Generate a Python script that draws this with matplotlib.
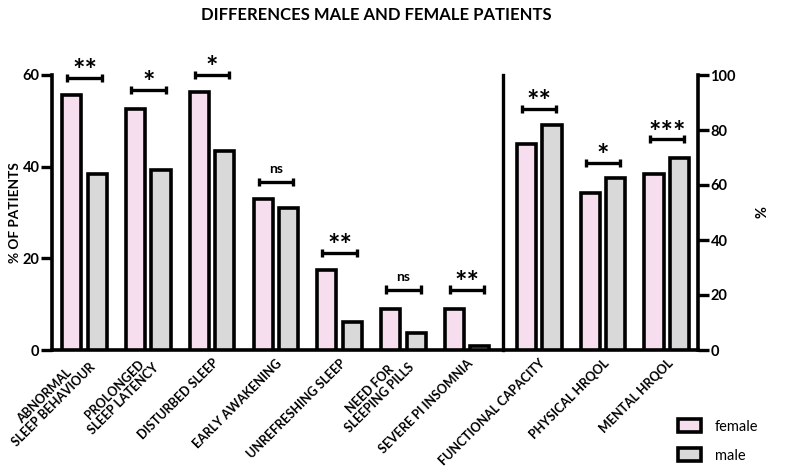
import matplotlib
matplotlib.use("Agg")
import matplotlib.pyplot as plt
import matplotlib.transforms as mtransforms
from matplotlib.patches import Patch

plt.rcParams['font.family'] = ['Lato', 'DejaVu Sans']

# ---- data ----
left_categories = ["ABNORMAL\nSLEEP BEHAVIOUR", "PROLONGED\nSLEEP LATENCY", "DISTURBED SLEEP",
                   "EARLY AWAKENING", "UNREFRESHING SLEEP", "NEED FOR\nSLEEPING PILLS",
                   "SEVERE PI INSOMNIA"]
right_categories = ["FUNCTIONAL CAPACITY", "PHYSICAL HRQOL", "MENTAL HRQOL"]

female_left = [55.6, 52.5, 56.4, 32.9, 17.5, 9.0, 8.9]
male_left = [38.5, 39.3, 43.5, 31.0, 6.2, 3.8, 0.95]
female_right = [74.8, 57.2, 63.9]
male_right = [81.7, 62.4, 69.9]

sig_left = ["**", "*", "*", "ns", "**", "ns", "**"]
sig_left_y = [59.4, 56.7, 60.0, 36.6, 21.2, 13.2, 13.2]
sig_right = ["**", "*", "***"]
sig_right_y = [87.7, 68.1, 76.6]

left_ticks = [0, 20, 40, 60]
right_ticks = [0, 20, 40, 60, 80, 100]

pink = "#F6DEEE"
grey = "#D9D9D9"
lw = 2.6

fig = plt.figure(figsize=(7.85, 4.74), dpi=100)
ax = fig.add_axes([52/785, 1-350/474, (698-52)/785, 275/474])
ax2 = ax.twinx()

xl = list(range(len(left_categories)))
xr = [7.13 + i for i in range(len(right_categories))]
off = 0.2
w = 0.3

ax.bar([x - off for x in xl], female_left, width=w, color=pink, edgecolor="black", linewidth=lw, zorder=3)
ax.bar([x + off for x in xl], male_left, width=w, color=grey, edgecolor="black", linewidth=lw, zorder=3)
ax2.bar([x - off for x in xr], female_right, width=w, color=pink, edgecolor="black", linewidth=lw, zorder=3)
ax2.bar([x + off for x in xr], male_right, width=w, color=grey, edgecolor="black", linewidth=lw, zorder=3)

ax.set_xlim(-0.51, 9.62)
ax.set_ylim(0, 60)
ax2.set_ylim(0, 100)
ax.axvline(6.565, ymin=0, ymax=1.0, color="black", linewidth=2.4, clip_on=False)

def bracket(axis, x, y, txt, ymax):
    hw = 0.27
    axis.plot([x - hw, x + hw], [y, y], color="black", linewidth=2.4, solid_capstyle="butt", clip_on=False)
    cap = ymax * 0.015
    for xx in (x - hw, x + hw):
        axis.plot([xx, xx], [y - cap, y + cap], color="black", linewidth=2.4, solid_capstyle="butt", clip_on=False)
    if txt == "ns":
        axis.annotate(txt, (x, y), xytext=(0, 5), textcoords="offset points", ha="center", va="bottom",
                      fontsize=10, fontweight="bold")
    else:
        axis.annotate(txt, (x, y), xytext=(0, -4.5), textcoords="offset points", ha="center", va="bottom",
                      fontsize=21, fontweight="bold")

for x, s, y in zip(xl, sig_left, sig_left_y):
    bracket(ax, x, y, s, 60)
for x, s, y in zip(xr, sig_right, sig_right_y):
    bracket(ax2, x, y, s, 100)

for a in (ax, ax2):
    a.spines["top"].set_visible(False)
    for sp in a.spines.values():
        sp.set_linewidth(2.6)
ax.spines["right"].set_visible(False)
ax2.spines["left"].set_visible(False)
ax2.spines["bottom"].set_visible(False)

ax.set_yticks(left_ticks)
ax2.set_yticks(right_ticks)
ax.tick_params(axis="y", length=8, width=2.4, labelsize=10.5, pad=1)
ax2.tick_params(axis="y", length=8, width=2.4, labelsize=10.5, pad=1)
for lab in ax.get_yticklabels() + ax2.get_yticklabels():
    lab.set_fontweight("bold")

ax.set_xticks(xl + xr)
ax.set_xticklabels(left_categories + right_categories, rotation=45, ha="right", va="center",
                   rotation_mode="anchor", fontsize=9.0, fontweight="bold", multialignment="center",
                   linespacing=1.05)
ax.tick_params(axis="x", length=0, pad=8)
shift = mtransforms.ScaledTranslation(4/100, 0, fig.dpi_scale_trans)
for lab in ax.get_xticklabels():
    lab.set_transform(lab.get_transform() + shift)

ax.set_ylabel("% OF PATIENTS", fontsize=9.8, fontweight="bold", labelpad=1)
ax2.set_ylabel("%", fontsize=10.5, fontweight="bold", labelpad=14)

fig.text(376/785, 1 - 15/474, "DIFFERENCES MALE AND FEMALE PATIENTS", ha="center", va="center",
         fontsize=12, fontweight="bold")

handles = [Patch(facecolor=pink, edgecolor="black", linewidth=lw),
           Patch(facecolor=grey, edgecolor="black", linewidth=lw)]
fig.legend(handles, ["female", "male"], loc="upper left", bbox_to_anchor=(665/785, 1 - 406/474),
           frameon=False, fontsize=10.5, handlelength=1.6, handleheight=1.0, labelspacing=1.0,
           handletextpad=0.9)

fig.savefig("out.png", dpi=100)
